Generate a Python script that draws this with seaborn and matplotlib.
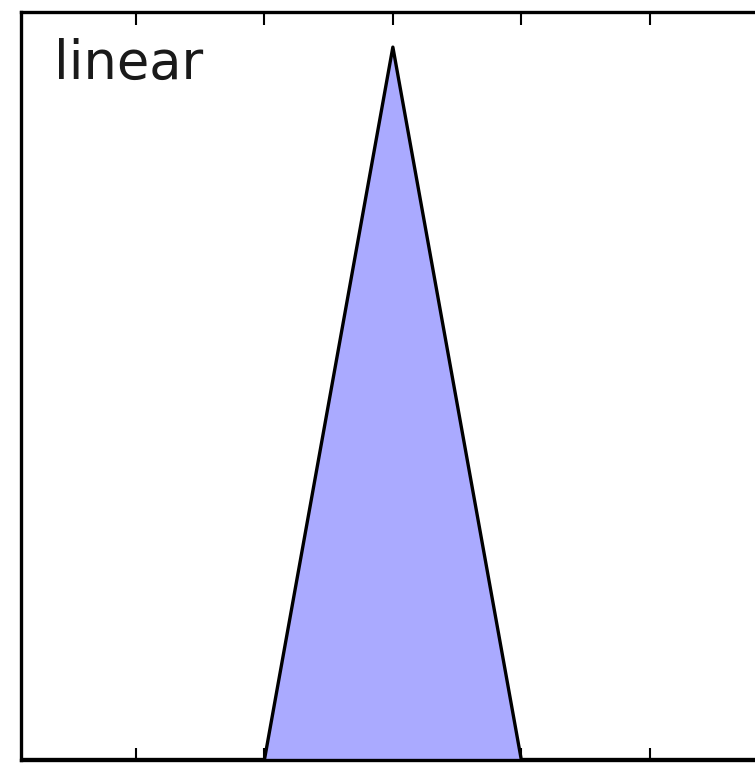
import matplotlib
matplotlib.use("Agg")
import matplotlib.pyplot as plt
import seaborn as sns
import pandas as pd

# Linear (triangular) kernel density
x_vals = [-3.0, -1.0, 0.0, 1.0, 3.0]
density = [0.0, 0.0, 1.0, 0.0, 0.0]
kernel_name = "linear"
tick_positions = [-2, -1, 0, 1, 2]

df = pd.DataFrame({"x": x_vals, "density": density})

sns.set_style("white")
plt.rcParams["font.family"] = ["DejaVu Sans"]

W, H = 755, 763
fig = plt.figure(figsize=(W / 100, H / 100), dpi=100)
left_px, right_px = 20.5, 20.5 + 5.8 * 128.4
top_px, bottom_px = 11.5, 759.5
ax = fig.add_axes([left_px / W, (H - bottom_px) / H,
                   (right_px - left_px) / W, (bottom_px - top_px) / H])

ax.fill(df["x"], df["density"], fc="#AAAAFF", ec="none")
sns.lineplot(data=df, x="x", y="density", ax=ax, color="black",
             linewidth=2.4, sort=False, legend=False)

ax.set_xlim(-2.9, 2.9)
ax.set_ylim(0, 1.05)
ax.set_xticks(tick_positions)
ax.set_yticks([])
ax.set_xticklabels([])
ax.set_xlabel("")
ax.set_ylabel("")
ax.tick_params(axis="x", direction="in", length=9, width=1.5,
               top=True, bottom=True, color="black")
for s in ax.spines.values():
    s.set_visible(True)
    s.set_color("black")
    s.set_linewidth(2.4)

ax.text(-2.64, 0.955, kernel_name, fontsize=38, color="#1a1a1a")

fig.savefig("out.png", dpi=100)
